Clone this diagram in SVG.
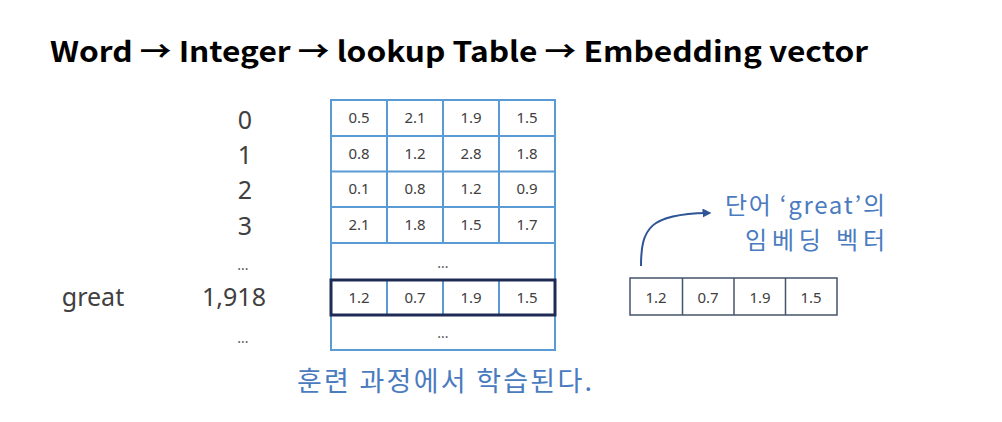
<svg xmlns="http://www.w3.org/2000/svg" width="1002" height="422" viewBox="0 0 1002 422">
<style>
.title{font-family:"Noto Sans CJK KR","Noto Sans",sans-serif;font-weight:bold;font-size:28px;fill:#000;}
.idx{font-family:"Noto Sans","Noto Sans CJK KR",sans-serif;font-size:25px;fill:#404040;text-anchor:middle;}
.cell{font-family:"Noto Sans","Noto Sans CJK KR",sans-serif;font-size:15px;fill:#404040;text-anchor:middle;}
.dots{font-family:"Noto Sans",sans-serif;font-size:14px;fill:#595959;text-anchor:middle;}
.grid{fill:none;stroke:#5b9bd5;stroke-width:2;}
.blue{font-family:"Noto Sans CJK KR",sans-serif;font-size:27px;fill:#4a7bbf;}
.lab{font-family:"Noto Sans CJK KR",sans-serif;font-size:24px;fill:#4a7bbf;}
.vec{fill:none;stroke:#44546a;stroke-width:1.5;}
</style>
<defs>
<marker id="ah" viewBox="0 0 10 10" refX="5" refY="5" markerWidth="4.5" markerHeight="4.5" orient="auto" markerUnits="strokeWidth">
<path d="M0,0 L10,5 L0,10 z" fill="#2f5597"/>
</marker>
</defs>
<rect width="1002" height="422" fill="#fff"/>
<g id="title"><text class="title" x="50" y="62" textLength="818" lengthAdjust="spacingAndGlyphs">Word → Integer → lookup Table → Embedding vector</text></g>
<g id="indices">
<text class="idx" x="245" y="129">0</text>
<text class="idx" x="245" y="164">1</text>
<text class="idx" x="245" y="199">2</text>
<text class="idx" x="245" y="235">3</text>
<text class="dots" x="243" y="270">...</text>
<text class="idx" x="234" y="306">1,918</text>
<text class="dots" x="243" y="343">...</text>
</g>
<g id="word"><text class="idx" x="93" y="306">great</text></g>
<g id="table">
<rect class="grid" x="331" y="100" width="224" height="250"/>
<line class="grid" x1="331" y1="136" x2="555" y2="136"/>
<line class="grid" x1="331" y1="171.5" x2="555" y2="171.5"/>
<line class="grid" x1="331" y1="207" x2="555" y2="207"/>
<line class="grid" x1="331" y1="243" x2="555" y2="243"/>
<line class="grid" x1="387" y1="100" x2="387" y2="243"/>
<line class="grid" x1="443" y1="100" x2="443" y2="243"/>
<line class="grid" x1="499" y1="100" x2="499" y2="243"/>
<line class="grid" x1="387" y1="280" x2="387" y2="315"/>
<line class="grid" x1="443" y1="280" x2="443" y2="315"/>
<line class="grid" x1="499" y1="280" x2="499" y2="315"/>
<rect x="331" y="280" width="224" height="35" fill="none" stroke="#1f2b55" stroke-width="3"/>
<text class="cell" x="359" y="123">0.5</text><text class="cell" x="415" y="123">2.1</text><text class="cell" x="471" y="123">1.9</text><text class="cell" x="527" y="123">1.5</text>
<text class="cell" x="359" y="159">0.8</text><text class="cell" x="415" y="159">1.2</text><text class="cell" x="471" y="159">2.8</text><text class="cell" x="527" y="159">1.8</text>
<text class="cell" x="359" y="194">0.1</text><text class="cell" x="415" y="194">0.8</text><text class="cell" x="471" y="194">1.2</text><text class="cell" x="527" y="194">0.9</text>
<text class="cell" x="359" y="230">2.1</text><text class="cell" x="415" y="230">1.8</text><text class="cell" x="471" y="230">1.5</text><text class="cell" x="527" y="230">1.7</text>
<text class="dots" x="443" y="268">...</text>
<text class="cell" x="359" y="303">1.2</text><text class="cell" x="415" y="303">0.7</text><text class="cell" x="471" y="303">1.9</text><text class="cell" x="527" y="303">1.5</text>
<text class="dots" x="443" y="338">...</text>
</g>
<g id="caption"><text class="blue" x="297" y="391" textLength="295" lengthAdjust="spacing">훈련 과정에서 학습된다.</text></g>
<g id="vector">
<rect class="vec" x="630" y="278" width="207" height="37"/>
<line class="vec" x1="682.5" y1="278" x2="682.5" y2="315"/>
<line class="vec" x1="734" y1="278" x2="734" y2="315"/>
<line class="vec" x1="785.5" y1="278" x2="785.5" y2="315"/>
<text class="cell" x="656" y="303">1.2</text><text class="cell" x="708" y="303">0.7</text><text class="cell" x="760" y="303">1.9</text><text class="cell" x="811" y="303">1.5</text>
</g>
<g id="label"><text class="lab" x="725" y="214" textLength="160" lengthAdjust="spacing">단어 ‘great’의</text><text class="lab" x="745" y="249" textLength="140" lengthAdjust="spacing">임베딩 벡터</text></g>
<g id="connectors">
<path d="M641,266 C641,228 650,214 707,213" fill="none" stroke="#2f5597" stroke-width="2" marker-end="url(#ah)"/>
</g>
</svg>
